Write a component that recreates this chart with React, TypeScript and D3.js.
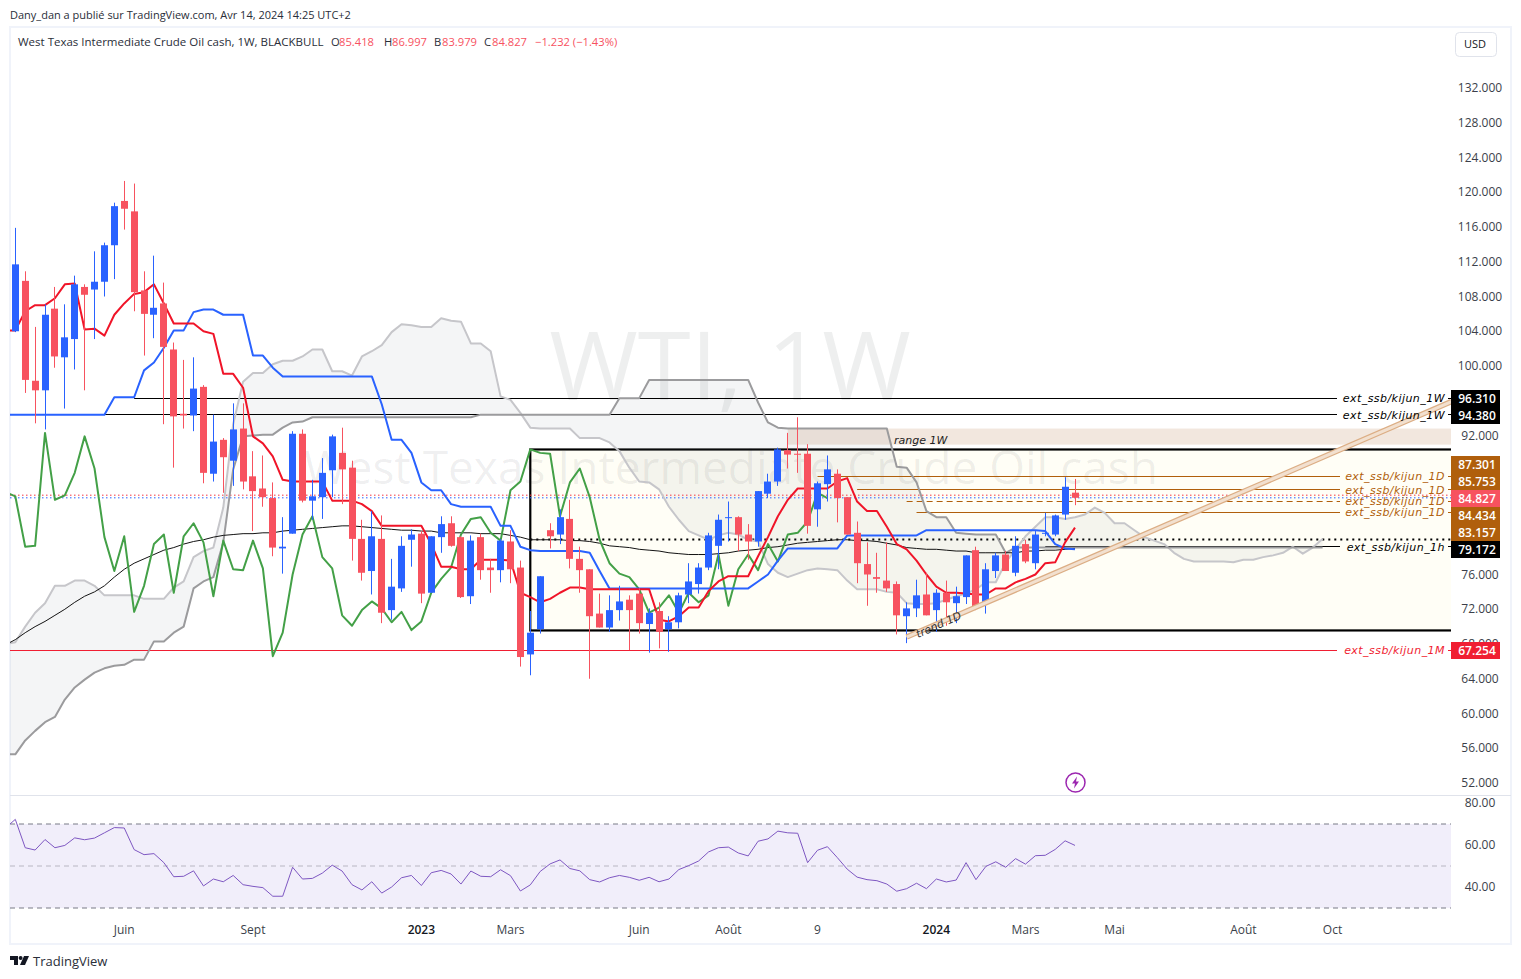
import { useEffect, useRef } from "react";
import * as d3 from "d3";

const opens = [104.0,109.8,98.3,97.2,106.6,101.0,103.1,109.1,108.8,109.7,113.9,119.0,117.8,108.7,105.9,107.2,101.9,94.5,94.3,97.6,87.6,91.5,89.1,92.8,87.3,85.9,84.8,79.0,80.7,92.2,84.5,84.9,88.0,90.0,88.3,80.1,76.4,80.1,71.9,74.4,80.0,80.7,73.9,80.3,81.9,80.3,73.5,80.3,76.8,76.5,79.8,76.8,66.8,69.7,81.1,80.6,82.4,77.8,76.6,71.5,69.9,71.9,73.1,73.8,70.3,71.8,69.7,70.5,73.7,74.9,76.8,79.3,82.5,82.6,80.6,79.8,85.3,86.7,90.3,89.9,89.9,83.5,86.4,87.6,84.9,80.8,77.2,75.7,75.3,74.9,71.2,72.1,73.7,71.9,73.9,72.7,73.4,78.8,72.8,76.4,78.3,76.2,79.5,77.3,80.7,80.6,82.9,85.418];
const closes = [111.7,98.4,97.2,105.9,101.1,103.3,109.4,108.2,109.7,113.9,118.4,118.1,108.5,106.0,106.7,102.2,94.2,94.3,97.4,87.7,91.3,89.5,92.7,86.7,85.6,84.9,79.1,79.2,92.2,84.5,85.0,87.7,91.9,88.1,80.1,76.2,80.4,71.6,74.6,79.3,80.6,73.8,80.4,81.8,79.3,73.4,79.9,76.5,76.5,79.9,76.6,66.5,69.3,75.8,80.4,82.6,77.8,76.5,71.2,69.9,71.9,72.9,71.9,70.4,71.6,69.4,70.5,73.6,75.2,76.8,80.5,82.3,82.6,80.6,79.8,85.6,86.7,90.4,89.8,89.8,81.6,86.5,88.1,84.8,80.6,77.3,76.0,75.5,74.4,71.3,72.1,73.6,71.3,73.9,72.8,73.5,78.2,72.3,76.6,78.2,76.4,79.3,77.5,80.6,80.8,82.8,86.1,84.827];
const highs = [115.9,110.9,104.5,107.1,109.1,107.1,110.4,109.4,113.2,114.2,118.8,121.3,121.0,110.9,112.7,109.6,102.7,100.7,101.0,97.8,94.4,91.7,95.7,95.7,90.2,89.7,86.6,82.6,92.5,92.7,86.9,89.4,92.1,92.9,89.1,82.3,83.3,82.8,77.8,80.4,81.2,81.0,80.4,82.7,82.7,80.4,80.5,80.7,77.8,80.1,81.1,77.6,71.8,75.8,81.9,83.5,84.6,79.2,76.6,73.8,73.6,74.7,73.6,74.4,72.1,72.8,71.2,73.9,77.3,77.3,80.8,82.9,84.4,82.7,81.8,85.6,87.6,90.6,92.3,94.1,91.0,86.7,89.7,88.1,84.9,82.1,79.7,78.5,79.7,75.2,72.8,75.4,76.2,74.3,75.3,74.6,78.2,79.2,77.3,78.5,78.7,80.4,80.0,81.0,83.1,82.9,87.2,86.997];
const lows = [103.9,96.9,93.4,92.7,99.8,95.1,99.6,97.2,103.1,108.0,110.0,115.7,106.3,101.2,103.2,93.3,88.3,92.8,92.5,86.5,86.7,85.4,86.2,85.8,81.0,83.8,78.1,76.1,80.7,84.3,82.3,82.4,84.9,84.1,77.6,75.3,73.7,70.4,70.8,74.0,76.9,72.7,73.9,78.5,79.2,73.3,72.6,75.4,73.9,75.1,75.0,65.4,64.4,69.2,79.0,79.5,76.7,73.9,64.0,69.9,69.4,70.7,67.3,69.2,67.0,67.5,67.1,69.8,72.7,73.8,76.5,76.6,79.8,78.7,77.7,79.2,84.8,86.2,88.2,87.7,80.7,81.5,84.4,82.0,80.6,75.0,72.4,73.9,74.0,69.1,68.1,71.1,71.3,69.4,70.1,70.4,72.6,71.9,71.5,75.6,76.4,75.8,77.3,76.6,80.4,80.4,82.3,83.979];

// indicator series start one bar before the first visible candle
const tenkan = [104.1,104.1,106.3,107.0,107.0,107.8,109.4,109.5,104.2,104.3,103.5,105.9,107.2,108.3,108.5,109.4,107.2,104.9,104.9,104.9,104.0,103.7,99.1,99.1,97.5,91.9,91.1,89.6,86.9,86.7,86.7,86.7,86.7,84.5,84.5,84.5,84.1,83.3,81.6,81.6,81.6,81.6,81.6,79.5,76.9,76.9,76.6,76.6,77.7,77.7,77.7,77.6,73.9,73.4,72.8,73.2,73.9,74.5,74.5,74.3,74.3,74.3,74.3,74.3,74.3,74.3,70.8,70.6,71.2,72.2,72.2,74.1,75.2,75.8,75.8,75.8,78.1,80.3,82.7,84.6,85.9,85.9,85.9,85.9,86.7,87.1,84.4,83.3,83.3,81.5,79.5,78.9,77.6,76.0,74.6,73.9,73.9,73.8,73.7,73.7,74.4,74.4,75.1,75.5,76.0,77.3,77.4,79.7,81.4];
const kijun = [94.4,94.4,94.4,94.4,94.4,94.4,94.4,94.4,94.4,94.4,94.4,96.4,96.4,96.4,99.5,100.4,102.1,104.1,104.1,106.2,106.5,106.5,105.9,105.9,105.9,101.2,101.2,99.8,98.8,98.8,98.8,98.8,98.8,98.8,98.8,98.8,98.8,98.8,95.6,91.5,91.5,90.0,86.6,85.7,85.7,84.1,83.8,83.8,83.8,83.8,81.6,81.6,79.2,78.8,78.7,78.7,78.7,78.7,78.7,78.5,76.4,74.4,74.4,74.4,74.4,74.4,74.4,74.4,74.4,74.4,74.4,74.4,74.4,74.4,74.4,74.4,75.2,76.0,77.6,79.0,79.0,79.0,79.0,79.0,79.0,80.5,80.5,80.5,80.5,80.5,80.5,80.5,80.5,81.1,81.1,81.1,81.1,81.1,81.1,81.1,81.1,81.1,81.1,81.1,81.1,81.0,79.5,79.0,78.9];
const chikou = [85.5,85.0,79.2,79.3,92.3,84.6,85.1,87.7,91.9,88.2,80.3,76.4,80.4,71.7,74.7,79.5,80.6,73.9,80.4,81.9,79.7,73.5,79.9,76.6,76.5,79.9,76.7,66.6,69.3,76.0,80.6,82.7,78.0,76.7,71.3,70.1,71.9,72.9,72.1,70.5,71.7,69.6,70.6,73.9,75.5,76.8,80.6,82.4,82.6,80.8,79.9,85.7,86.7,90.4,90.0,89.9,82.7,86.6,88.2,84.9,80.0,77.3,76.1,75.7,74.3,71.6,72.2,73.6,71.6,73.9,72.8,73.6,78.3,72.4,76.6,78.3,76.5,79.5,77.5,80.6,80.8,82.1,85.4,84.8];
const ma = [67.9,68.5,69.3,70.0,70.6,71.3,72.0,72.8,73.5,74.0,74.7,75.7,76.6,77.3,77.8,78.3,78.8,79.1,79.5,79.8,80.0,80.3,80.5,80.6,80.7,80.7,80.8,80.8,81.0,81.1,81.2,81.3,81.4,81.5,81.6,81.6,81.5,81.4,81.3,81.2,81.1,81.1,81.0,81.0,80.8,80.8,80.8,80.8,80.7,80.7,80.7,80.5,80.3,80.0,80.0,80.0,80.0,79.9,79.9,79.8,79.6,79.3,79.2,79.1,78.9,78.8,78.7,78.5,78.4,78.3,78.3,78.3,78.4,78.5,78.7,78.8,78.9,79.1,79.2,79.4,79.6,79.7,79.8,79.9,80.0,80.0,79.9,79.9,79.8,79.6,79.4,79.1,79.0,78.9,78.9,78.8,78.7,78.7,78.5,78.5,78.5,78.5,78.5,78.7,78.7,78.8,78.8,78.9,79.0];
const spanA = [68.0,68.2,70.0,71.6,72.7,74.7,74.7,75.3,75.3,74.7,73.6,73.6,73.6,73.6,73.2,73.2,73.2,74.5,75.2,78.0,78.7,79.1,83.7,93.3,98.2,99.2,99.2,100.2,100.6,100.6,101.1,101.9,101.9,99.4,99.4,98.9,101.1,101.7,102.4,103.9,104.8,104.7,104.5,104.5,105.5,105.2,105.1,102.6,102.6,101.7,96.5,96.1,94.6,92.9,92.8,92.8,92.8,92.8,91.7,91.7,91.7,91.2,90.2,88.3,86.7,86.6,85.8,83.8,82.3,81.0,80.5,80.0,80.5,80.8,80.6,80.0,79.8,77.2,76.2,75.7,76.1,76.5,76.7,76.6,76.5,75.3,74.3,74.3,74.3,74.0,73.9,72.7,72.6,72.6,72.7,73.1,73.5,73.8,74.3,75.1,75.1,77.4,78.9,80.4,81.5,82.6,82.6,82.4,82.6,82.9,83.7,83.1,81.9,81.9,81.1,80.3,79.9,79.5,78.5,77.8,77.5,77.5,77.5,77.5,77.4,77.7,77.7,78.0,78.2,78.5,79.2,78.4,79.1,80.1];
const spanB = [55.3,55.3,56.9,58.0,59.0,59.6,61.6,63.0,63.9,64.7,65.2,65.5,65.6,66.2,66.2,68.3,68.3,69.3,70.0,74.4,75.2,75.7,79.7,88.1,91.9,92.0,92.1,92.1,92.9,93.5,93.6,94.1,94.1,94.1,94.1,94.1,94.1,94.1,94.1,94.1,94.1,94.1,94.1,94.1,94.1,94.1,94.1,94.1,94.4,94.4,94.4,94.4,94.4,94.4,94.4,94.4,94.4,94.4,94.4,94.4,94.4,94.4,96.3,96.3,96.3,98.4,98.4,98.4,98.4,98.4,98.4,98.4,98.4,98.4,98.4,98.4,95.8,93.5,92.9,92.8,92.8,92.8,92.8,92.8,92.8,92.8,92.8,92.8,92.8,92.8,88.4,88.3,86.6,83.3,82.6,82.6,80.8,80.7,80.6,80.6,80.6,78.5,79.1,79.1,79.1,79.1,79.1,79.1,79.1,79.1,79.1,79.1,79.1,79.1,79.1,79.1,79.1,79.1,79.1,79.1,79.1,79.1,79.1,79.1,79.1,79.1,79.1,79.1,79.1,79.1,79.1,79.1,79.1,79.1];
const rsi = [70.0,72.2,58.7,57.6,62.6,58.7,59.8,63.4,62.5,63.3,65.8,68.3,68.1,57.8,55.4,55.9,51.6,44.9,45.1,47.7,40.5,43.8,42.5,45.5,41.1,40.3,39.7,35.6,35.6,49.4,43.8,44.1,46.6,50.4,47.6,41.1,38.6,42.5,37.1,40.0,44.4,45.5,40.7,46.8,47.9,46.2,41.4,47.6,45.1,44.9,48.2,45.4,38.1,41.0,47.4,51.0,52.9,48.8,47.7,43.5,42.4,44.4,45.5,44.6,43.2,44.6,42.5,43.8,48.3,50.2,52.4,56.7,58.7,59.0,56.2,54.8,61.8,62.9,66.6,65.8,65.6,51.6,57.5,59.2,54.0,48.5,44.7,43.5,43.0,41.4,38.0,39.2,41.8,39.2,43.8,42.4,43.3,51.6,43.5,49.8,52.0,49.4,53.5,50.9,54.9,55.1,57.9,62.0,59.8];

const priceTicks = [132,128,124,120,116,112,108,104,100,96,92,88,84,80,76,72,68,64,60,56,52];
const rsiTicks = [80,60,40];
const timeTicks = [
  { bar: 11, label: "Juin" }, { bar: 24, label: "Sept" }, { bar: 41, label: "2023", bold: true },
  { bar: 50, label: "Mars" }, { bar: 63, label: "Juin" }, { bar: 72, label: "Août" },
  { bar: 81, label: "9" }, { bar: 93, label: "2024", bold: true }, { bar: 102, label: "Mars" },
  { bar: 111, label: "Mai" }, { bar: 124, label: "Août" }, { bar: 133, label: "Oct" },
];
const levels = [
  { price: 96.31, label: "ext_ssb/kijun_1W", tag: "96.310", from: 12, color: "#000000" },
  { price: 94.38, label: "ext_ssb/kijun_1W", tag: "94.380", from: 9, color: "#000000" },
  { price: 87.301, label: "ext_ssb/kijun_1D", tag: "87.301", from: 81, color: "#b05f0c" },
  { price: 85.753, label: "ext_ssb/kijun_1D", tag: "85.753", from: 85, color: "#b05f0c" },
  { price: 84.434, label: "ext_ssb/kijun_1D", tag: "84.434", from: 90, color: "#b05f0c", dash: "6 4" },
  { price: 83.157, label: "ext_ssb/kijun_1D", tag: "83.157", from: 91, color: "#b05f0c" },
  { price: 79.172, label: "ext_ssb/kijun_1h", tag: "79.172", from: 104, color: "#000000" },
  { price: 67.254, label: "ext_ssb/kijun_1M", tag: "67.254", from: -1, color: "#f01e32" },
];
const lastClose = 84.827;
const lastRef = 85.13;
const rangeBox = { fromBar: 52, top: 90.39, bottom: 69.56, dotted: 80.03 };
const rangeBand = { fromBar: 78, top: 92.8, bottom: 90.95 };
const trendStart = { bar: 90, price: 68.8 };
const trendEnd = { bar: 145, price: 95.9 };

const FONT = "'Open Sans', 'Noto Sans', sans-serif";
const NOTE_FONT = "'DejaVu Sans', sans-serif";
const UP = "#2962ff";
const DOWN = "#f7525f";

export default function App() {
  const svgRef = useRef(null);

  useEffect(() => {
    const svg = d3.select(svgRef.current);
    svg.selectAll("*").remove();

    const left = 10;
    const right = 1451;
    const x = d3.scaleLinear().domain([0, 107]).range([15.3, 1075]);
    const y = d3.scaleLinear().domain([132, 52]).range([88, 783]);
    const yRsi = d3.scaleLinear().domain([80, 40]).range([803, 887]);

    const txt = (g, px, py, s, size = 12, fill = "#131722", anchor = "start") =>
      g.append("text").attr("x", px).attr("y", py).attr("font-size", size)
        .attr("fill", fill).attr("text-anchor", anchor).attr("font-family", FONT).text(s);

    // frame
    svg.append("rect").attr("width", 1521).attr("height", 979).attr("fill", "#ffffff");
    svg.append("rect").attr("x", 10).attr("y", 27).attr("width", 1501).attr("height", 917)
      .attr("fill", "none").attr("stroke", "#f0f3fa").attr("stroke-width", 2);
    svg.append("line").attr("x1", 10).attr("x2", 1511).attr("y1", 795.5).attr("y2", 795.5)
      .attr("stroke", "#e0e3eb");

    const defs = svg.append("defs");
    defs.append("clipPath").attr("id", "pane").append("rect")
      .attr("x", left).attr("y", 28).attr("width", right - left).attr("height", 767);

    const pane = svg.append("g").attr("clip-path", "url(#pane)");

    // range box + band
    pane.append("rect")
      .attr("x", x(rangeBand.fromBar)).attr("y", y(rangeBand.top))
      .attr("width", right - x(rangeBand.fromBar)).attr("height", y(rangeBand.bottom) - y(rangeBand.top))
      .attr("fill", "#f2e7de");
    pane.append("rect")
      .attr("x", x(rangeBox.fromBar)).attr("y", y(rangeBox.top))
      .attr("width", right - x(rangeBox.fromBar) + 5).attr("height", y(rangeBox.bottom) - y(rangeBox.top))
      .attr("fill", "#fffef6").attr("stroke", "#000").attr("stroke-width", 2.2);
    pane.append("line").attr("x1", x(rangeBox.fromBar)).attr("x2", right)
      .attr("y1", y(rangeBox.dotted)).attr("y2", y(rangeBox.dotted))
      .attr("stroke", "#000").attr("stroke-width", 2).attr("stroke-dasharray", "2 4");

    // watermark sits over the box fill
    txt(pane, 730, 400, "WTI, 1W", 96, "rgba(19,23,34,0.07)", "middle");
    txt(pane, 731, 484, "West Texas Intermediate Crude Oil cash", 46, "rgba(19,23,34,0.07)", "middle");

    // cloud
    const lineAt = (series, offset = -1) =>
      d3.line().x((_, i) => x(i + offset)).y((d) => y(d))(series);
    const cloud = d3.area().x((_, i) => x(i - 1)).y0((d) => y(d)).y1((_, i) => y(spanB[i]));
    pane.append("path").attr("d", cloud(spanA)).attr("fill", "rgba(120,123,134,0.08)");

    // last price dotted lines
    pane.append("line").attr("x1", left).attr("x2", right).attr("y1", y(lastRef)).attr("y2", y(lastRef))
      .attr("stroke", "#f23645").attr("stroke-dasharray", "1.5 2.5");
    pane.append("line").attr("x1", left).attr("x2", right).attr("y1", y(lastClose)).attr("y2", y(lastClose))
      .attr("stroke", UP).attr("stroke-dasharray", "1.5 2.5");

    // horizontal levels with their labels in a gap
    levels.forEach((l) => {
      const py = Math.floor(y(l.price)) + 0.5;
      const gap = l.color === "#b05f0c" || l.label.endsWith("1h") ? 1340 : 1337;
      const seg = (a, b) => pane.append("line").attr("x1", a).attr("x2", b).attr("y1", py).attr("y2", py)
        .attr("stroke", l.color).attr("stroke-width", 1).attr("stroke-dasharray", l.dash || null);
      seg(l.from < 0 ? left : x(l.from), gap);
      seg(1448, right);
    });

    // indicator lines
    const draw = (series, color, w) =>
      pane.append("path").attr("d", lineAt(series)).attr("fill", "none")
        .attr("stroke", color).attr("stroke-width", w).attr("stroke-linejoin", "round");
    draw(spanA, "#c6c6ca", 2);
    draw(spanB, "#9b9b9d", 2);
    draw(ma, "#131313", 1);
    draw(chikou, "#43a047", 2);
    draw(kijun, "#2962ff", 2);
    draw(tenkan, "#f01428", 2);

    // candles
    const bw = 7;
    const candles = pane.append("g");
    opens.forEach((o, i) => {
      const c = closes[i];
      const col = c >= o ? UP : DOWN;
      const px = Math.round(x(i) - 0.5) + 0.5;
      candles.append("line").attr("x1", px).attr("x2", px).attr("y1", y(highs[i])).attr("y2", y(lows[i]))
        .attr("stroke", col).attr("stroke-width", 1);
      candles.append("rect").attr("x", px - bw / 2).attr("width", bw)
        .attr("y", y(Math.max(o, c))).attr("height", Math.max(1, Math.abs(y(o) - y(c))))
        .attr("fill", col);
    });

    // trend channel
    const tx0 = x(trendStart.bar), ty0 = y(trendStart.price), tx1 = x(trendEnd.bar), ty1 = y(trendEnd.price);
    pane.append("line").attr("x1", tx0).attr("y1", ty0).attr("x2", tx1).attr("y2", ty1)
      .attr("stroke", "#dcae85").attr("stroke-width", 5.5);
    pane.append("line").attr("x1", tx0).attr("y1", ty0).attr("x2", tx1).attr("y2", ty1)
      .attr("stroke", "#f2e0cf").attr("stroke-width", 3);

    // level texts
    levels.forEach((l) => {
      txt(svg, 1445, y(l.price) + 4, l.label, 11, l.color, "end")
        .attr("font-family", NOTE_FONT).attr("font-style", "italic").attr("letter-spacing", 0.45);
    });
    txt(svg, 894, 444, "range 1W", 11, "#222").attr("font-family", NOTE_FONT).attr("font-style", "italic");
    txt(svg, 0, 0, "trend 1D", 11, "#333")
      .attr("font-family", NOTE_FONT).attr("font-style", "italic")
      .attr("transform", "translate(918,638) rotate(-24)");

    // price axis
    const axis = svg.append("g");
    priceTicks.forEach((t) => {
      txt(axis, 1480, y(t) + 4, d3.format(".3f")(t), 12, "#3b3f4a", "middle");
    });
    const tag = (py, s, fill) => {
      axis.append("rect").attr("x", 1451).attr("y", py - 8.5).attr("width", 49).attr("height", 17).attr("fill", fill);
      txt(axis, 1477, py + 4.5, s, 12, "#ffffff", "middle").attr("font-weight", 600);
    };
    // tags are stacked so they do not overlap, as the platform does
    tag(398.5, "96.310", "#000000");
    tag(415.5, "94.380", "#000000");
    tag(464.5, "87.301", "#b05f0c");
    tag(481.5, "85.753", "#b05f0c");
    tag(515.5, "84.434", "#b05f0c");
    tag(532.5, "83.157", "#b05f0c");
    tag(498.5, lastClose.toFixed(3), DOWN);
    tag(549.5, "79.172", "#000000");
    tag(650.5, "67.254", "#f01e32");

    // USD button
    svg.append("rect").attr("x", 1455.5).attr("y", 32.5).attr("width", 41).attr("height", 24).attr("rx", 4)
      .attr("fill", "#fff").attr("stroke", "#e0e3eb");
    txt(svg, 1475, 48, "USD", 11, "#131722", "middle");

    // flash icon
    const flash = svg.append("g").attr("transform", "translate(1075.5,782.5)");
    flash.append("circle").attr("r", 9.5).attr("fill", "#fff").attr("stroke", "#9c27b0").attr("stroke-width", 1.5);
    flash.append("path").attr("d", "M1.5 -6 L-3.5 1 H-0.5 L-1.5 6 L3.5 -1 H0.5 Z").attr("fill", "#9c27b0");

    // header
    txt(svg, 10, 19, "Dany_dan a publié sur TradingView.com, Avr 14, 2024 14:25 UTC+2", 11, "#2a2e39");
    const title = svg.append("g");
    txt(title, 18, 46, "West Texas Intermediate Crude Oil cash, 1W, BLACKBULL", 11.5, "#2a2e39");
    [["O", "85.418", 331], ["H", "86.997", 384], ["B", "83.979", 434], ["C", "84.827", 484]].forEach(([k, v, px]) => {
      txt(title, px, 46, k, 11.2, "#2a2e39");
      txt(title, +px + 8, 46, v, 11.2, DOWN);
    });
    txt(title, 535, 46, "−1.232 (−1.43%)", 11.2, DOWN);

    // RSI pane
    const rsiPane = svg.append("g");
    rsiPane.append("rect").attr("x", left).attr("width", right - left)
      .attr("y", yRsi(70)).attr("height", yRsi(30) - yRsi(70)).attr("fill", "#f1eefa");
    [70, 50, 30].forEach((v) => {
      rsiPane.append("line").attr("x1", left).attr("x2", right).attr("y1", yRsi(v)).attr("y2", yRsi(v))
        .attr("stroke", v === 50 ? "#b8b6c2" : "#787b86").attr("stroke-dasharray", "5 4");
    });
    rsiPane.append("path")
      .attr("d", d3.line().x((_, i) => Math.max(left, x(i - 1))).y((d) => yRsi(d))(rsi))
      .attr("fill", "none").attr("stroke", "#7e57c2").attr("stroke-width", 1);
    rsiTicks.forEach((t) => txt(axis, 1480, yRsi(t) + 4, t.toFixed(2), 12, "#3b3f4a", "middle"));

    // time axis
    timeTicks.forEach((t) => {
      const n = txt(svg, x(t.bar), 933.5, t.label, 12, t.bold ? "#131722" : "#3b3f4a", "middle");
      if (t.bold) n.attr("font-weight", 600);
    });

    // footer logo
    const logo = svg.append("g").attr("transform", "translate(10,956)").attr("fill", "#131722");
    logo.append("path").attr("d", "M0 0 H8 V9 H4 V4 H0 Z");
    logo.append("circle").attr("cx", 10.6).attr("cy", 2).attr("r", 2);
    logo.append("path").attr("d", "M14 0 H19 L15 9 H10 Z");
    txt(svg, 33, 966, "TradingView", 13, "#2a2e39");
  }, []);

  return <svg ref={svgRef} width={1521} height={979} style={{ position: "absolute", left: 0, top: 0 }} />;
}
